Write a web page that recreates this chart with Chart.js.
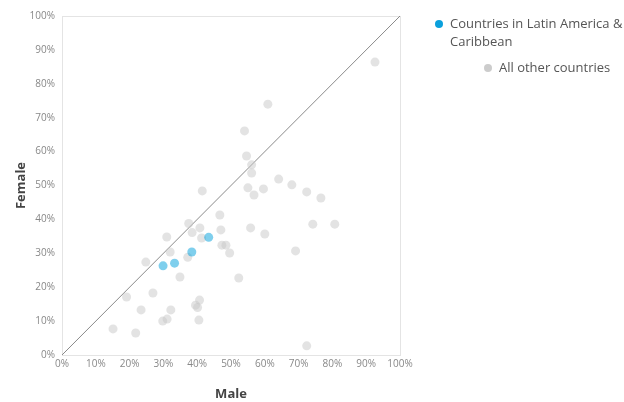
<!DOCTYPE html>
<html>
<head>
<meta charset="utf-8">
<script src="https://cdn.jsdelivr.net/npm/chart.js@4"></script>
<style>
  html, body { margin: 0; padding: 0; background: #fff; }
  #wrap { position: relative; width: 624px; height: 402px; font-family: "Open Sans", sans-serif; }
  #legend { position: absolute; left: 430px; top: 14px; width: 194px; color: #555; font-size: 13px; line-height: 18px; }
  .item { position: relative; padding-left: 20px; }
  .dot { position: absolute; left: 5px; top: 6px; width: 8px; height: 8px; border-radius: 50%; }
</style>
</head>
<body>
<div id="wrap">
  <canvas id="chart" width="624" height="402"></canvas>
  <div id="legend">
    <div class="item"><span class="dot" style="background:#0aa0dc"></span>Countries in Latin America &amp; Caribbean</div>
    <div class="item" style="margin-left:49px;margin-top:8px"><span class="dot" style="background:#cccccc"></span>All other countries</div>
  </div>
</div>
<script>
// share of male / female (%) per country
const latamMale = [29.9, 33.3, 38.4, 43.4];
const latamFemale = [26.3, 27.1, 30.4, 34.7];

const otherMale = [92.6, 60.9, 54.0, 54.6, 56.1, 56.1, 41.5, 55.0, 56.8, 64.1, 59.6, 68.0,
  72.4, 76.6, 46.7, 74.2, 80.7, 55.8, 47.0, 60.0, 47.3, 48.5, 49.6, 69.1, 52.3, 72.4,
  40.7, 40.1, 39.5, 40.5, 24.8, 31.0, 32.0, 37.5, 38.5, 40.8, 41.3, 37.2, 34.9, 26.9,
  19.1, 23.4, 32.2, 29.8, 31.1, 15.1, 21.8];
const otherFemale = [86.4, 74.0, 66.1, 58.7, 56.1, 53.7, 48.4, 49.3, 47.2, 51.9, 49.0, 50.2,
  48.1, 46.3, 41.3, 38.6, 38.6, 37.5, 36.9, 35.7, 32.4, 32.4, 30.1, 30.7, 22.7, 2.7,
  16.2, 14.0, 14.7, 10.3, 27.4, 34.8, 30.4, 38.8, 36.1, 37.5, 34.5, 28.8, 23.0, 18.3,
  17.1, 13.3, 13.3, 10.0, 10.6, 7.7, 6.5];

const parityLine = [0, 100];

function toPoints(xs, ys) {
  return xs.map((x, i) => ({ x: x, y: ys[i] }));
}

// box around the plot area
const frame = {
  id: "frame",
  beforeDatasetsDraw(chart) {
    const a = chart.chartArea;
    const ctx = chart.ctx;
    ctx.save();
    ctx.strokeStyle = "#e4e4e4";
    ctx.lineWidth = 1;
    ctx.strokeRect(Math.round(a.left) + 0.5, Math.round(a.top) + 0.5, Math.round(a.right - a.left), Math.round(a.bottom - a.top));
    ctx.restore();
  },
};

new Chart(document.getElementById("chart"), {
  type: "scatter",
  data: {
    datasets: [
      {
        label: "parity",
        type: "line",
        data: toPoints(parityLine, parityLine),
        borderColor: "#8a8a8a",
        borderWidth: 1,
        pointRadius: 0,
        order: 3,
      },
      {
        label: "All other countries",
        data: toPoints(otherMale, otherFemale),
        backgroundColor: "rgba(200, 200, 200, 0.5)",
        borderWidth: 0,
        pointRadius: 4.5,
        order: 2,
      },
      {
        label: "Countries in Latin America & Caribbean",
        data: toPoints(latamMale, latamFemale),
        backgroundColor: "rgba(0, 160, 220, 0.5)",
        borderWidth: 0,
        pointRadius: 4.5,
        order: 1,
      },
    ],
  },
  options: {
    responsive: false,
    animation: false,
    layout: { padding: { top: 16, right: 224, bottom: 0, left: 0 } },
    plugins: {
      legend: { display: false },
      tooltip: { enabled: false },
    },
    scales: {
      x: {
        min: 0,
        max: 100,
        grid: { display: false, drawTicks: false, tickLength: 0 },
        border: { display: false },
        afterFit(scale) { scale.height = 47; },
        ticks: {
          stepSize: 10,
          maxRotation: 0,
          padding: 3,
          color: "#888",
          font: { family: "Open Sans", size: 10 },
          callback: (v) => v + "%",
        },
        title: {
          display: true,
          text: "Male",
          color: "#444",
          font: { family: "Open Sans", size: 13, weight: "bold" },
          padding: { top: 0, bottom: 0 },
        },
      },
      y: {
        min: 0,
        max: 100,
        grid: { display: false, drawTicks: false, tickLength: 0 },
        border: { display: false },
        afterFit(scale) { scale.width = 62; },
        ticks: {
          stepSize: 10,
          padding: 7,
          color: "#888",
          font: { family: "Open Sans", size: 10 },
          callback: (v) => v + "%",
        },
        title: {
          display: true,
          text: "Female",
          color: "#444",
          font: { family: "Open Sans", size: 13, weight: "bold" },
          padding: { top: 13, bottom: 0 },
        },
      },
    },
  },
  plugins: [frame],
});
</script>
</body>
</html>
